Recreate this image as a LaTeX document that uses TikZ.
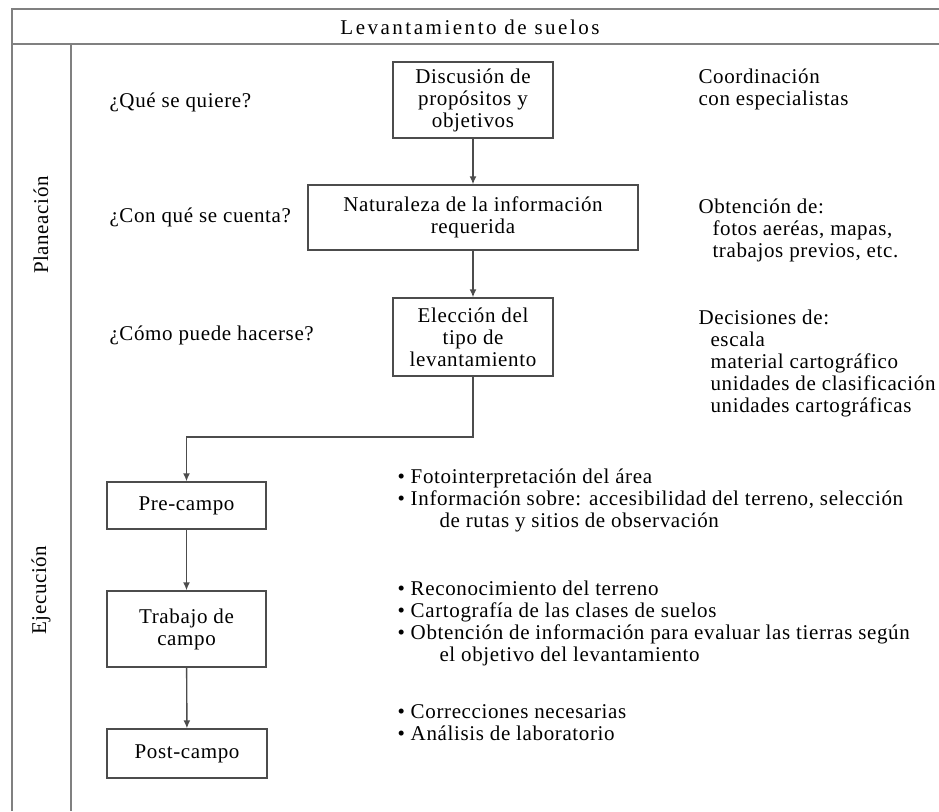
\documentclass[tikz,border=0pt]{standalone}
\usepackage{fontspec}
\setmainfont{Liberation Serif}[LetterSpace=3]
\usepackage{tikz}
\usetikzlibrary{arrows.meta, positioning}
\tikzstyle{arrow}     = [line width=1.4pt, draw=black!70, -{Latex[length=8pt, width=7pt]}]
\tikzstyle{block}     = [rectangle, draw=black!70, line width=1.4pt, inner sep=0pt, text centered]
\tikzstyle{frame}     = [line width=1.8pt, draw=black!50]
\tikzstyle{note}      = [anchor=west, align=left]
\tikzset{every node/.style={align=center, font=\fontsize{21}{22}\selectfont}}

\begin{document}
\begin{tikzpicture}[x=1pt, y=-1pt]
    \useasboundingbox (0,0) rectangle (939,811);

    % marco de la tabla
    \draw [frame] (12,811) -- (12,9) -- (939,9);
    \draw [frame] (12,44) -- (939,44);
    \draw [frame] (71,44) -- (71,811);
    \node (titulo) at (470,27) [font=\fontsize{21}{22}\selectfont\addfontfeatures{LetterSpace=12}]
          {Levantamiento de suelos};
    \node (plan) at (41,225) [rotate=90] {Planeación};
    \node (ejec) at (41,590) [rotate=90] {Ejecución};

    % planeacion
    \node (disc) at (473,100)   [block, minimum width=160pt, minimum height=76pt]
          {Discusión de\\propósitos y\\objetivos};
    \node (nat)  at (473,217.5) [block, minimum width=330pt, minimum height=65pt]
          {Naturaleza de la información\\requerida};
    \node (elec) at (473,337)   [block, minimum width=160pt, minimum height=78pt]
          {Elección del\\tipo de\\levantamiento};

    \node (q1) at (106,102) [note] {¿Qué se quiere?};
    \node (q2) at (106,217) [note] {¿Con qué se cuenta?};
    \node (q3) at (106,335) [note] {¿Cómo puede hacerse?};

    \node (r1) at (695,89)  [note] {Coordinación\\con especialistas};
    \node (r2) at (695,230) [note] {Obtención de:\\\hspace*{14pt}fotos aeréas, mapas,\\\hspace*{14pt}trabajos previos, etc.};
    \node (r3) at (695,363) [note] {Decisiones de:\\\hspace*{12pt}escala\\\hspace*{12pt}material cartográfico\\\hspace*{12pt}unidades de clasificación\\\hspace*{12pt}unidades cartográficas};

    % ejecucion
    \node (pre)  at (186.5,505.5) [block, minimum width=159pt, minimum height=47pt] {Pre-campo};
    \node (trab) at (186.5,629)   [block, minimum width=159pt, minimum height=76pt] {Trabajo de\\campo};
    \node (post) at (187,753.5)   [block, minimum width=160pt, minimum height=49pt] {Post-campo};

    \node (b1) at (394,500) [note] {• Fotointerpretación del área\\• Información sobre: accesibilidad del terreno, selección\\\hspace*{42pt}de rutas y sitios de observación};
    \node (b2) at (394,623) [note] {• Reconocimiento del terreno\\• Cartografía de las clases de suelos\\• Obtención de información para evaluar las tierras según\\\hspace*{42pt}el objetivo del levantamiento};
    \node (b3) at (394,723) [note] {• Correcciones necesarias\\• Análisis de laboratorio};

    \coordinate (codo) at (0,437);
    \draw [arrow] (disc) -- (nat);
    \draw [arrow] (nat)  -- (elec);
    \draw [arrow] (elec.south) -- (elec.south |- codo) -| (pre.north);
    \draw [arrow] (pre)  -- (trab);
    \draw [arrow] (trab) -- (post);
\end{tikzpicture}
\end{document}
